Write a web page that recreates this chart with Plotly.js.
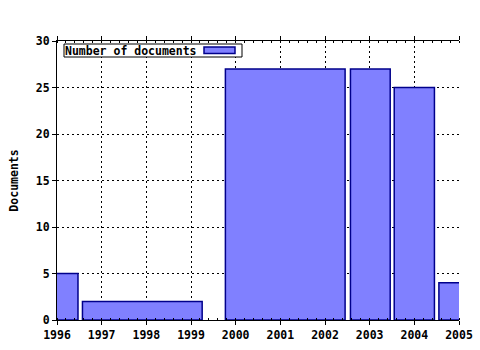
<!DOCTYPE html>
<html><head><meta charset="utf-8">
<script src="https://cdn.plot.ly/plotly-3.0.1.min.js"></script>
<style>body{margin:0;background:#fff}#c{width:480px;height:350px}</style>
</head><body><div id="c"></div>
<script>
const seriesName = "Number of documents";
const barCenters = [1996, 1997.91, 2001.11, 2003.015, 2004.0, 2005.0];
const barWidths  = [0.94, 2.68, 2.68, 0.89, 0.9, 0.9];
const documents  = [5, 2, 27, 27, 25, 4];
const xTicks = [1996, 1997, 1998, 1999, 2000, 2001, 2002, 2003, 2004, 2005];
const yTicks = [0, 5, 10, 15, 20, 25, 30];

const F = {family: "DejaVu Sans Mono, monospace", size: 11.5, color: "#000", weight: "bold"};
const px = v => (v - 57) / 402, py = v => (320 - v) / 279;

Plotly.newPlot("c", [{
  type: "bar", x: barCenters, y: documents, width: barWidths, name: seriesName,
  marker: {color: "#8080ff", line: {color: "#00008b", width: 1.5}},
  showlegend: false, hoverinfo: "skip"
}], {
  width: 480, height: 350,
  margin: {l: 57, r: 21, t: 41, b: 30},
  paper_bgcolor: "#fff", plot_bgcolor: "#fff",
  font: F,
  xaxis: {
    range: [1996, 2005], tickvals: xTicks, ticktext: xTicks.map(String),
    showline: true, linecolor: "#000", linewidth: 1, mirror: "allticks",
    ticks: "outside", ticklen: 4, tickcolor: "#000",
    showgrid: true, gridcolor: "#000", gridwidth: 1, griddash: "2px,3px",
    zeroline: false, tickfont: F,
    minor: {dtick: 0.2, ticks: "inside", ticklen: 2, tickcolor: "#000", showgrid: false}
  },
  yaxis: {
    range: [0, 30], tickvals: yTicks,
    showline: true, linecolor: "#000", linewidth: 1, mirror: false,
    ticks: "outside", ticklen: 4, tickcolor: "#000",
    showgrid: true, gridcolor: "#000", gridwidth: 1, griddash: "2px,3px",
    zeroline: false, tickfont: F,
    title: {text: "Documents", font: F, standoff: 14}
  },
  annotations: [{
    xref: "paper", yref: "paper", x: px(64), y: py(50.5), xanchor: "left", yanchor: "middle",
    text: seriesName, showarrow: false, font: F, borderpad: 0, align: "left"
  }],
  shapes: [{
    type: "rect", xref: "paper", yref: "paper", layer: "above",
    x0: px(64), x1: px(242), y0: py(57), y1: py(44),
    fillcolor: "#fff", line: {color: "#000", width: 1}
  }, {
    type: "rect", xref: "paper", yref: "paper", layer: "above",
    x0: px(204), x1: px(235), y0: py(53.5), y1: py(47),
    fillcolor: "#8080ff", line: {color: "#00008b", width: 1.5}
  }]
}, {staticPlot: true});
</script></body></html>
